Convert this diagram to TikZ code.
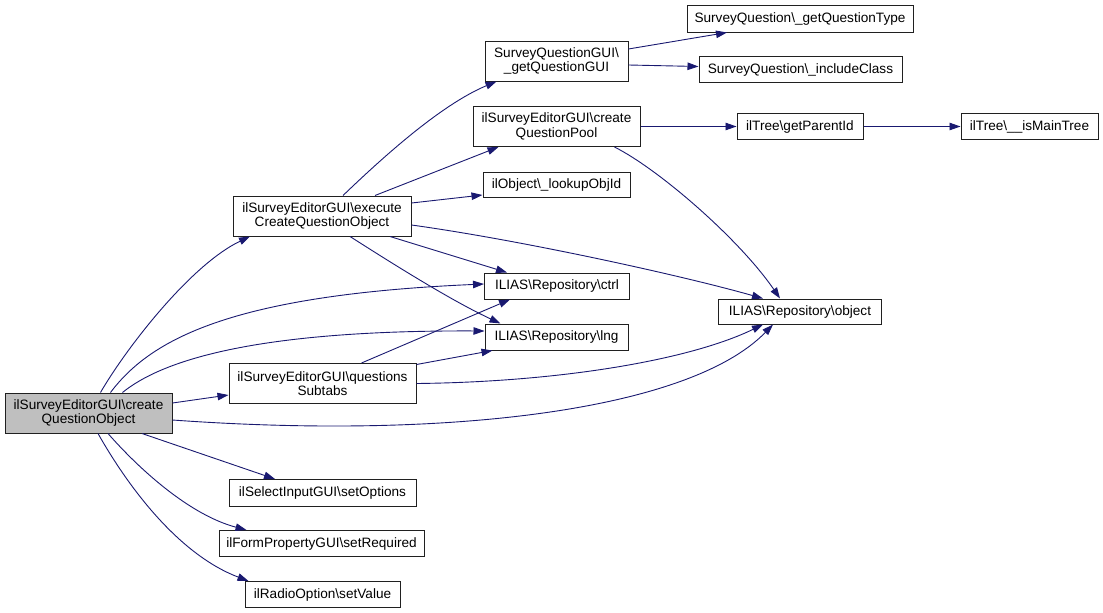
\documentclass[tikz,border=0pt]{standalone}
\usepackage{fontspec}
\setmainfont{Liberation Sans}
\usetikzlibrary{arrows.meta}
\definecolor{edgeblue}{HTML}{191970}
\definecolor{boxgray}{HTML}{BFBFBF}
\definecolor{boxline}{HTML}{202020}
\tikzset{
  fn/.style={draw=boxline, line width=1pt, fill=white, inner sep=0pt, align=center,
    font=\fontsize{13.6pt}{14.6pt}\selectfont},
  fnmain/.style={fn, fill=boxgray},
  call/.style={draw=edgeblue, line width=0.9pt, -{Triangle[length=11pt,width=7.5pt]}, fill=none},
}
\newcommand{\bs}{\textbackslash}
\begin{document}
\begin{tikzpicture}[x=1pt,y=-1pt]
\useasboundingbox (0,0) rectangle (1103,613);
\node[fnmain, minimum width=167pt, minimum height=40pt] (A) at (88.5,413) {ilSurveyEditorGUI\bs create\\QuestionObject};
\node[fn, minimum width=178pt, minimum height=40pt] (B) at (322,216) {ilSurveyEditorGUI\bs execute\\CreateQuestionObject};
\node[fn, minimum width=143pt, minimum height=40pt] (C) at (556.5,61) {SurveyQuestionGUI\bs\\\_getQuestionGUI};
\node[fn, minimum width=167pt, minimum height=40pt] (D) at (556.5,126.5) {ilSurveyEditorGUI\bs create\\QuestionPool};
\node[fn, minimum width=147pt, minimum height=25pt] (E) at (556.5,185) {ilObject\bs\_lookupObjId};
\node[fn, minimum width=145pt, minimum height=26pt] (F) at (557,286) {ILIAS\bs Repository\bs ctrl};
\node[fn, minimum width=143pt, minimum height=26pt] (G) at (556.5,337) {ILIAS\bs Repository\bs lng};
\node[fn, minimum width=187pt, minimum height=40pt] (H) at (322.5,383.5) {ilSurveyEditorGUI\bs questions\\Subtabs};
\node[fn, minimum width=226pt, minimum height=27pt] (I) at (800,18.5) {SurveyQuestion\bs\_getQuestionType};
\node[fn, minimum width=203pt, minimum height=26pt] (J) at (800.5,69.5) {SurveyQuestion\bs\_includeClass};
\node[fn, minimum width=126pt, minimum height=26pt] (K) at (800,126.5) {ilTree\bs getParentId};
\node[fn, minimum width=137pt, minimum height=26pt] (L) at (1029.5,126.5) {ilTree\bs\_\_isMainTree};
\node[fn, minimum width=163pt, minimum height=25pt] (M) at (800,311.5) {ILIAS\bs Repository\bs object};
\node[fn, minimum width=187pt, minimum height=27pt] (N) at (322.5,493) {ilSelectInputGUI\bs setOptions};
\node[fn, minimum width=205pt, minimum height=26pt] (O) at (321.5,543.5) {ilFormPropertyGUI\bs setRequired};
\node[fn, minimum width=155pt, minimum height=26pt] (P) at (322.5,594.5) {ilRadioOption\bs setValue};

% from A
\draw[call] ([xshift=12pt]A.north) .. controls (125,350) and (190,265) .. ([xshift=-72pt]B.south);
\draw[call] ([xshift=22pt]A.north) .. controls (150,340) and (230,295) .. ([yshift=2pt]F.west);
\draw[call] ([xshift=34pt]A.north) .. controls (160,362) and (250,330) .. ([yshift=6pt]G.west);
\draw[call] ([yshift=10pt]A.east) -- ([yshift=-11.5pt]H.west);
\draw[call] ([yshift=-7pt]A.east) .. controls (450,440) and (690,410) .. ([xshift=-27pt]M.south);
\draw[call] ([xshift=53.5pt]A.south) -- ([xshift=-47.5pt]N.north);
\draw[call] ([xshift=19.5pt]A.south) .. controls (140,470) and (190,515) .. ([xshift=-75pt]O.north);
\draw[call] ([xshift=9.5pt]A.south) .. controls (130,490) and (180,555) .. ([xshift=-74pt]P.north);
% from B
\draw[call] ([xshift=21pt]B.north) .. controls (380,160) and (440,105) .. ([xshift=-60pt]C.south);
\draw[call] ([xshift=53pt]B.north) -- ([xshift=-58pt]D.south);
\draw[call] ([yshift=13pt]B.east) -- ([yshift=-10pt]E.west);
\draw[call] ([xshift=68pt]B.south) -- ([xshift=-50pt]F.north);
\draw[call] ([xshift=28pt]B.south) .. controls (390,262) and (450,300) .. ([xshift=-56pt]G.north);
\draw[call] ([yshift=-9pt]B.east) .. controls (520,240) and (680,275) .. ([xshift=-37pt]M.north);
% from C
\draw[call] ([yshift=12pt]C.east) -- ([xshift=-73pt]I.south);
\draw[call] ([yshift=-4pt]C.east) -- ([yshift=3pt]J.west);
% from D
\draw[call] (D.east) -- (K.west);
\draw[call] ([xshift=58pt]D.south) .. controls (660,170) and (740,240) .. ([xshift=-20pt]M.north);
% from K
\draw[call] (K.east) -- (L.west);
% from H
\draw[call] ([xshift=39pt]H.north) -- ([xshift=-47pt]F.south);
\draw[call] ([yshift=19pt]H.east) -- ([xshift=-64pt]G.south);
\draw[call] (H.east) .. controls (560,382) and (690,360) .. ([xshift=-37pt]M.south);
\end{tikzpicture}
\end{document}
